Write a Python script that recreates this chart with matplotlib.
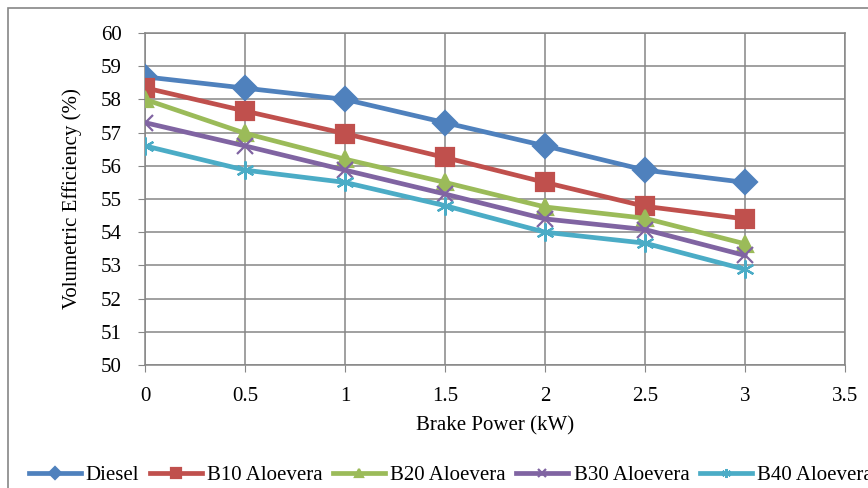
import numpy as np
import matplotlib
matplotlib.use('Agg')
import matplotlib.pyplot as plt
from matplotlib.patches import Rectangle

# data
brake_power = [0, 0.5, 1, 1.5, 2, 2.5, 3]
diesel = [58.68, 58.34, 58.0, 57.3, 56.6, 55.87, 55.5]
b10 = [58.35, 57.65, 56.97, 56.25, 55.5, 54.78, 54.4]
b20 = [58.0, 56.98, 56.2, 55.5, 54.76, 54.42, 53.65]
b30 = [57.3, 56.6, 55.87, 55.15, 54.4, 54.08, 53.3]
b40 = [56.6, 55.87, 55.5, 54.8, 54.0, 53.67, 52.88]
names = ['Diesel', 'B10 Aloevera', 'B20 Aloevera', 'B30 Aloevera', 'B40 Aloevera']

plt.rcParams['font.family'] = ['Liberation Serif', 'DejaVu Serif']
grey = '#868686'

fig = plt.figure(figsize=(8.68, 4.88), dpi=100)
ax = fig.add_axes([145/868, 1-365/488, 700/868, 332/488])

series = [diesel, b10, b20, b30, b40]
colors = ['#4F81BD', '#C0504D', '#9BBB59', '#8064A2', '#4BACC6']
markers = ['D', 's', '^', 'x', (6, 2, 0)]
msizes = [12, 13, 11, 11, 13]
for vals, c, m, ms, nm in zip(series, colors, markers, msizes, names):
    ax.plot(brake_power, vals, color=c, lw=3.4, marker=m, ms=ms, mew=1.6,
            mfc=c, mec=c, label=nm, zorder=3)

ax.set_xlim(0, 3.5)
ax.set_ylim(50, 60)
ax.set_xticks(np.arange(0, 3.51, 0.5))
ax.set_xticklabels(['0', '0.5', '1', '1.5', '2', '2.5', '3', '3.5'])
ax.set_yticks(np.arange(50, 60.1, 1))
ax.grid(True, color=grey, lw=1.1)
ax.set_axisbelow(True)
for s in ax.spines.values():
    s.set_color(grey)
    s.set_linewidth(1.1)
ax.tick_params(direction='out', length=5, color=grey, labelsize=15, pad=12)
ax.tick_params(axis='x', pad=11)
ax.set_xlabel('Brake Power (kW)', fontsize=15, labelpad=7)
ax.set_ylabel('Volumetric Efficiency (%)', fontsize=15, labelpad=13)

fig.legend(loc='lower left', bbox_to_anchor=(16/868, -0.02), ncol=5,
           frameon=False, fontsize=15, handlelength=2.5, columnspacing=0.5,
           handletextpad=0.25, borderaxespad=0.2, markerscale=0.5)

fig.patches.append(Rectangle((8/868, -0.2), 1.2, 1.2 - 8/488, transform=fig.transFigure,
                             fill=False, edgecolor=grey, lw=1.2))

fig.savefig('out.png', dpi=100)
